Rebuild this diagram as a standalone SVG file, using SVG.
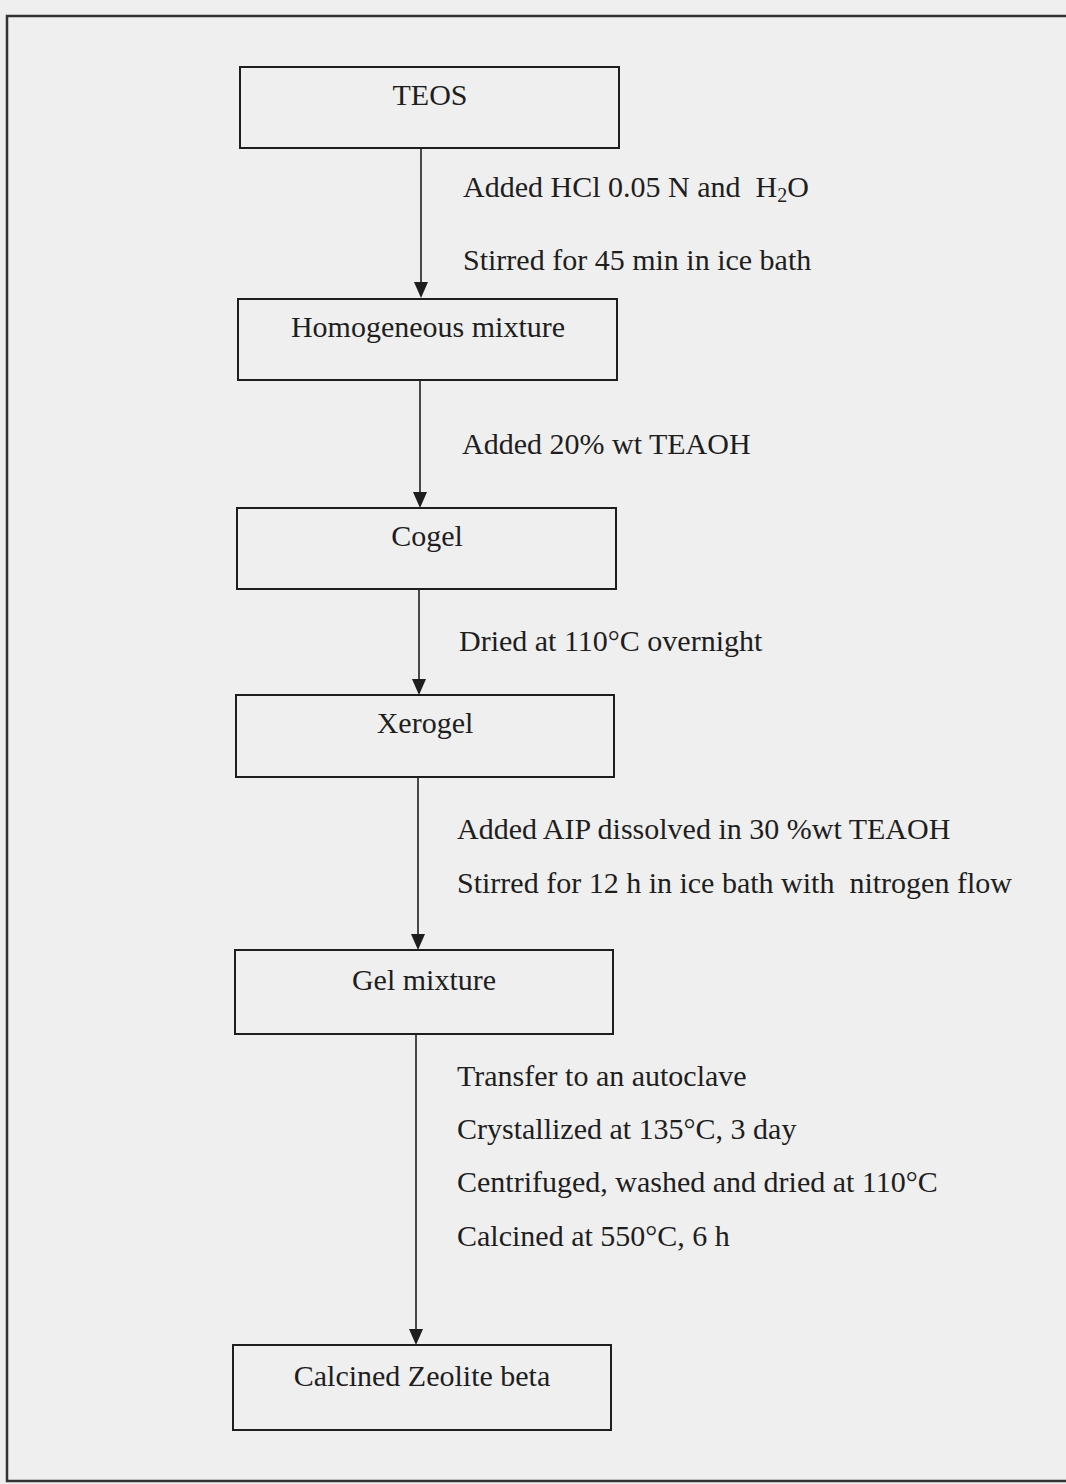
<svg xmlns="http://www.w3.org/2000/svg" width="1066" height="1484" viewBox="0 0 1066 1484">
<defs>
<style>
.box{fill:none;stroke:#1e1e1e;stroke-width:2}
.frame{fill:none;stroke:#333;stroke-width:2.5}
.t{font-family:"Liberation Serif","Times New Roman",serif;font-size:30px;fill:#1e1e1e;white-space:pre}
.c{text-anchor:middle}
.ln{stroke:#1e1e1e;stroke-width:1.6;fill:none}
.hd{fill:#1e1e1e}
</style>
</defs>
<rect width="1066" height="1484" fill="#efefef"/>
<path class="frame" d="M1066,16 L7,16 L7,1481 L1066,1481"/>

<g id="connectors">
<line class="ln" x1="421" y1="148" x2="421" y2="284"/><path class="hd" d="M414,282 L428,282 L421,298 Z"/>
<line class="ln" x1="420" y1="380" x2="420" y2="494"/><path class="hd" d="M413,492 L427,492 L420,508 Z"/>
<line class="ln" x1="419" y1="589" x2="419" y2="681"/><path class="hd" d="M412,679 L426,679 L419,695 Z"/>
<line class="ln" x1="418" y1="777" x2="418" y2="936"/><path class="hd" d="M411,934 L425,934 L418,950 Z"/>
<line class="ln" x1="416" y1="1034" x2="416" y2="1331"/><path class="hd" d="M409,1329 L423,1329 L416,1345 Z"/>
<text class="t" x="463" y="197" xml:space="preserve">Added HCl 0.05 N and  H<tspan font-size="20" dy="5">2</tspan><tspan dy="-5">O</tspan></text>
<text class="t" x="463" y="270">Stirred for 45 min in ice bath</text>
<text class="t" x="462" y="454">Added 20% wt TEAOH</text>
<text class="t" x="459" y="651">Dried at 110°C overnight</text>
<text class="t" x="457" y="839">Added AIP dissolved in 30 %wt TEAOH</text>
<text class="t" x="457" y="893" xml:space="preserve">Stirred for 12 h in ice bath with  nitrogen flow</text>
<text class="t" x="457" y="1086">Transfer to an autoclave</text>
<text class="t" x="457" y="1139">Crystallized at 135°C, 3 day</text>
<text class="t" x="457" y="1192">Centrifuged, washed and dried at 110°C</text>
<text class="t" x="457" y="1246">Calcined at 550°C, 6 h</text>
</g>

<g id="n-teos"><rect class="box" x="240" y="67" width="379" height="81"/><text class="t c" x="430" y="105">TEOS</text></g>
<g id="n-homogeneous"><rect class="box" x="238" y="299" width="379" height="81"/><text class="t c" x="428" y="337">Homogeneous mixture</text></g>
<g id="n-cogel"><rect class="box" x="237" y="508" width="379" height="81"/><text class="t c" x="427" y="546">Cogel</text></g>
<g id="n-xerogel"><rect class="box" x="236" y="695" width="378" height="82"/><text class="t c" x="425" y="733">Xerogel</text></g>
<g id="n-gel"><rect class="box" x="235" y="950" width="378" height="84"/><text class="t c" x="424" y="990">Gel mixture</text></g>
<g id="n-calcined"><rect class="box" x="233" y="1345" width="378" height="85"/><text class="t c" x="422" y="1386">Calcined Zeolite beta</text></g>
</svg>
